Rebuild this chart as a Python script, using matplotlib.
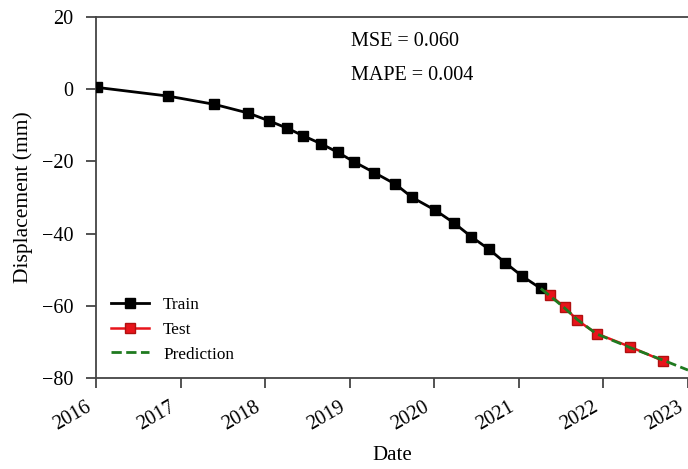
import matplotlib
matplotlib.use("Agg")
import matplotlib.pyplot as plt
import matplotlib.transforms as mtransforms

plt.rcParams['font.family'] = ['Liberation Serif', 'DejaVu Serif']

# decimal years
train_t = [2016.01, 2016.85, 2017.40, 2017.80, 2018.05, 2018.26, 2018.45, 2018.66, 2018.86,
           2019.05, 2019.29, 2019.54, 2019.74, 2020.01, 2020.23, 2020.44, 2020.65, 2020.84,
           2021.04, 2021.26]
train_y = [0.5, -1.9, -4.2, -6.6, -8.8, -10.8, -12.9, -15.1, -17.5,
           -20.1, -23.1, -26.3, -30.0, -33.5, -37.0, -40.9, -44.4, -48.1,
           -51.8, -55.2]
test_t = [2021.37, 2021.54, 2021.69, 2021.92, 2022.32, 2022.71]
test_y = [-57.1, -60.3, -64.0, -67.7, -71.4, -75.3]
pred_t = [2021.26, 2021.37, 2021.54, 2021.69, 2021.92, 2022.32, 2022.71, 2023.0]
pred_y = [-55.2, -57.3, -60.6, -63.8, -67.8, -71.6, -75.1, -77.8]
years = list(range(2016, 2024))

fig = plt.figure(figsize=(6.88, 4.69), dpi=100)
ax = fig.add_axes([0.1395, 0.194, 0.8605, 0.7698])

ax.plot(train_t, train_y, color='black', lw=2, marker='s', ms=7.5, label='Train', zorder=3)
ax.plot(test_t, test_y, color='#e8141b', lw=1.8, marker='s', ms=7.5, mec='#b01010', label='Test', zorder=3)
ax.plot(pred_t, pred_y, color='#1f7a1f', lw=2, ls='--', label='Prediction', zorder=4)

ax.set_xlim(2016, 2023)
ax.set_ylim(-80, 20)
ax.set_xticks(years)
ax.set_xticklabels([str(y) for y in years], rotation=30, ha='right', rotation_mode='anchor')
ax.set_yticks([20, 0, -20, -40, -60, -80])
ax.tick_params(labelsize=14.5, length=7.5, width=1.3, color='#444444', direction='out')
ax.tick_params(axis='y', pad=9)
ax.tick_params(axis='x', pad=7)
# nudge the rotated date labels to the left
shift = mtransforms.ScaledTranslation(-11 / 100, 0, fig.dpi_scale_trans)
for lab in ax.get_xticklabels():
    lab.set_transform(lab.get_transform() + shift)
for s in ['left', 'bottom', 'top']:
    ax.spines[s].set_color('#444444')
    ax.spines[s].set_linewidth(1.3)
ax.spines['right'].set_visible(False)

ax.set_xlabel('Date', fontsize=15, labelpad=8)
ax.set_ylabel('Displacement (mm)', fontsize=15.5, labelpad=6)

ax.text(0.43, 0.931, 'MSE = 0.060', transform=ax.transAxes, fontsize=14.5, va='center')
ax.text(0.43, 0.839, 'MAPE = 0.004', transform=ax.transAxes, fontsize=14.5, va='center')

ax.legend(loc='lower left', frameon=False, fontsize=12.4, handlelength=2.2,
          bbox_to_anchor=(0.0, 0.0), labelspacing=0.5)

fig.savefig('out.png', dpi=100)
